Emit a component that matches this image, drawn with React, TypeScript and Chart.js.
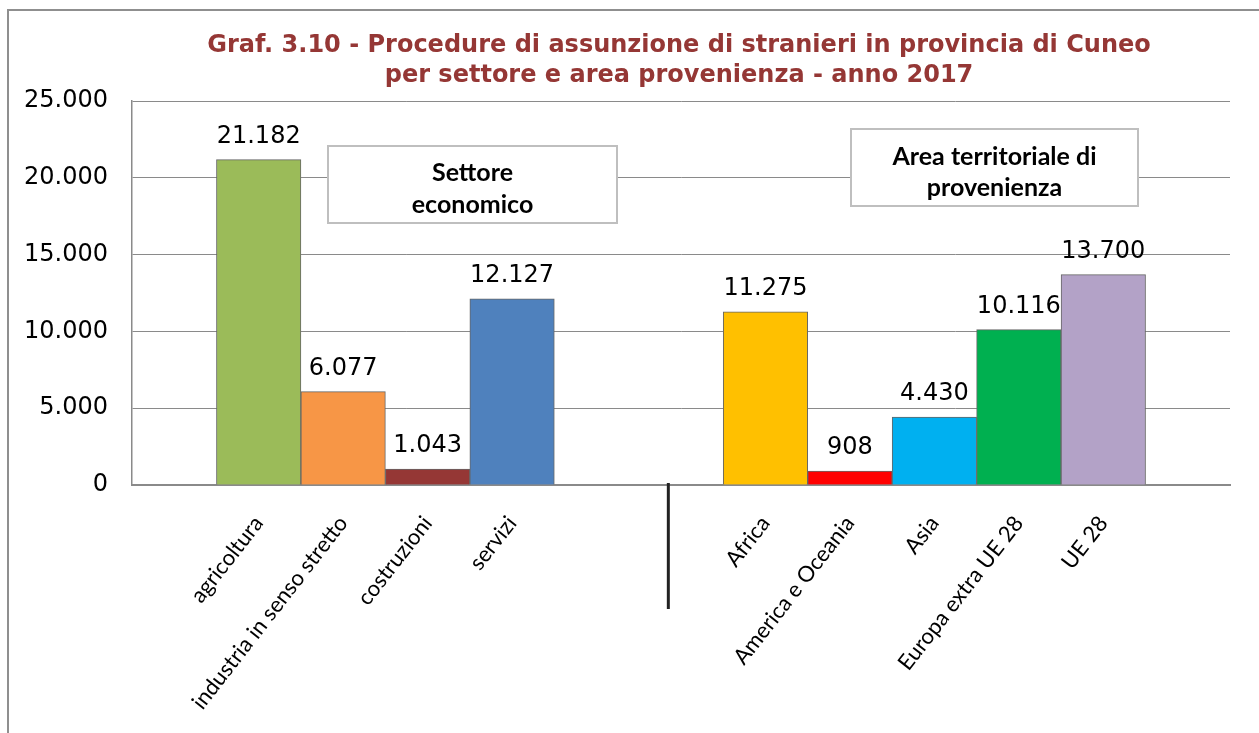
import React, { useEffect, useRef } from "react";
import { Chart, registerables } from "chart.js";

Chart.register(...registerables);

// ---- data ----
const categories = [
  "",
  "agricoltura",
  "industria in senso stretto",
  "costruzioni",
  "servizi",
  "",
  "",
  "Africa",
  "America e Oceania",
  "Asia",
  "Europa extra UE 28",
  "UE 28",
  "",
];
const values: (number | null)[] = [null, 21182, 6077, 1043, 12127, null, null, 11275, 908, 4430, 10116, 13700, null];
const yTickValues = [0, 5000, 10000, 15000, 20000, 25000];
const titleLines = [
  "Graf. 3.10 - Procedure di assunzione di stranieri in provincia di Cuneo",
  "per settore e area provenienza - anno 2017",
];
const boxSettoreLines = ["Settore", "economico"];
const boxAreaLines = ["Area territoriale di", "provenienza"];

// ---- styles ----
const barColors = [
  "rgba(0,0,0,0)",
  "#9BBB59",
  "#F79646",
  "#953735",
  "#4F81BD",
  "rgba(0,0,0,0)",
  "rgba(0,0,0,0)",
  "#FFC000",
  "#FF0000",
  "#00B0F0",
  "#00B050",
  "#B3A2C7",
  "rgba(0,0,0,0)",
];

const fmt = (v: number) => String(Math.round(v)).replace(/\B(?=(\d{3})+(?!\d))/g, ".");

const decorPlugin = {
  id: "decor",
  beforeDraw(chart: any) {
    const ctx = chart.ctx;
    ctx.save();
    ctx.fillStyle = "#ffffff";
    ctx.fillRect(0, 0, chart.width, chart.height);
    ctx.strokeStyle = "#8f8f8f";
    ctx.lineWidth = 2;
    ctx.beginPath();
    ctx.moveTo(8, chart.height + 5);
    ctx.lineTo(8, 10);
    ctx.lineTo(chart.width + 5, 10);
    ctx.stroke();
    ctx.restore();
  },
  afterDatasetsDraw(chart: any) {
    const ctx = chart.ctx;
    ctx.save();
    // data labels
    const meta = chart.getDatasetMeta(0);
    ctx.font = "24px 'DejaVu Sans'";
    ctx.fillStyle = "#000";
    ctx.textAlign = "center";
    ctx.textBaseline = "alphabetic";
    meta.data.forEach((el: any, i: number) => {
      const v = values[i];
      if (v == null) return;
      ctx.fillText(fmt(v), el.x, el.y - 17);
    });
    // text boxes
    const drawBox = (x0: number, y0: number, x1: number, y1: number, lines: string[], ys: number[]) => {
      ctx.fillStyle = "#fff";
      ctx.fillRect(x0, y0, x1 - x0, y1 - y0);
      ctx.strokeStyle = "#bfbfbf";
      ctx.lineWidth = 2;
      ctx.strokeRect(x0, y0, x1 - x0, y1 - y0);
      ctx.fillStyle = "#000";
      ctx.font = "bold 25px Lato";
      ctx.textAlign = "center";
      ctx.textBaseline = "middle";
      lines.forEach((t, k) => ctx.fillText(t, (x0 + x1) / 2, ys[k]));
    };
    drawBox(328, 146, 617, 223, boxSettoreLines, [173, 205]);
    drawBox(851, 129, 1138, 206, boxAreaLines, [157, 188]);
    ctx.restore();
  },
  afterDraw(chart: any) {
    const ctx = chart.ctx;
    ctx.save();
    // title
    ctx.fillStyle = "#953735";
    ctx.font = "bold 24px 'DejaVu Sans'";
    ctx.textAlign = "center";
    ctx.textBaseline = "middle";
    ctx.fillText(titleLines[0], 679, 46);
    ctx.fillText(titleLines[1], 679, 76);
    // divider between the two groups
    const xs = chart.scales.x;
    const dx = xs.getPixelForValue(5.85);
    ctx.strokeStyle = "#222";
    ctx.lineWidth = 3;
    ctx.beginPath();
    ctx.moveTo(dx, chart.chartArea.bottom - 2);
    ctx.lineTo(dx, 609);
    ctx.stroke();
    ctx.restore();
  },
};

export default function App() {
  const ref = useRef<HTMLCanvasElement | null>(null);
  useEffect(() => {
    if (!ref.current) return;
    const chart = new Chart(ref.current, {
      type: "bar",
      data: {
        labels: categories,
        datasets: [
          {
            data: values as any,
            backgroundColor: barColors,
            borderColor: "#666666",
            borderWidth: 1,
            barPercentage: 1,
            categoryPercentage: 1,
          },
        ],
      },
      options: {
        animation: false,
        responsive: true,
        maintainAspectRatio: false,
        layout: { padding: { top: 101, right: 29, bottom: 0, left: 0 } },
        plugins: {
          legend: { display: false },
          title: { display: false },
          tooltip: { enabled: false },
        },
        scales: {
          x: {
            grid: { display: false },
            border: { display: true, color: "#8a8a8a", width: 2 },
            ticks: {
              autoSkip: false,
              minRotation: 52,
              maxRotation: 52,
              padding: 18,
              color: "#000",
              font: { family: "Lato", size: 22 },
            },
            afterFit: (s: any) => {
              s.height = 248;
            },
          },
          y: {
            min: 0,
            max: 25000,
            afterBuildTicks: (s: any) => {
              s.ticks = yTickValues.map((v) => ({ value: v }));
            },
            grid: { color: "#8a8a8a", lineWidth: 1, drawTicks: false },
            border: { display: true, color: "#8a8a8a", width: 1.5 },
            ticks: {
              padding: 24,
              color: "#000",
              font: { family: "DejaVu Sans", size: 24 },
              callback: (v: any) => fmt(Number(v)),
            },
            afterFit: (s: any) => {
              s.width = 132;
            },
          },
        },
      },
      plugins: [decorPlugin],
    });
    return () => chart.destroy();
  }, []);
  return (
    <div style={{ position: "fixed", left: 0, top: 0, width: 1259, height: 733 }}>
      <canvas ref={ref} />
    </div>
  );
}
